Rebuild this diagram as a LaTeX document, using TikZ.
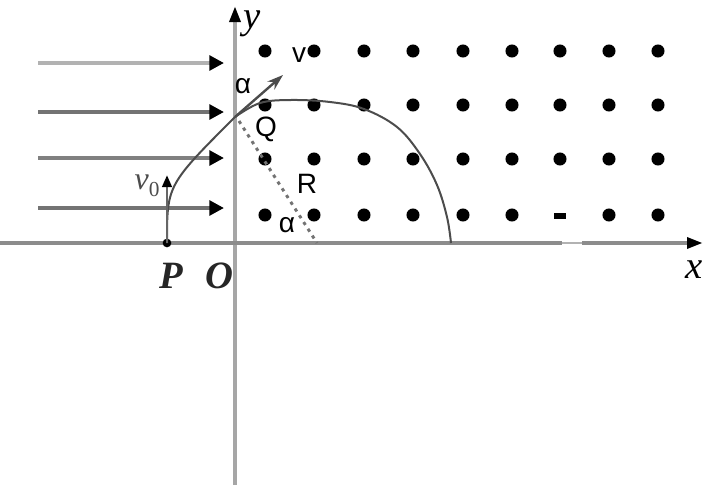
\documentclass[tikz,border=0pt]{standalone}
\usepackage{fontspec}
\setmainfont{Liberation Serif}
\newfontfamily\sanslab{Liberation Sans}
\usetikzlibrary{arrows.meta}
\begin{document}
\begin{tikzpicture}[x=0.75pt,y=-0.75pt,
  fieldarrow/.style={line width=3.2pt,draw=black!50,-{Triangle[length=11pt,width=11pt,color=black]}},
  axisline/.style={line width=3pt,draw=black!35,-{Triangle[length=12pt,width=8pt,color=black]}},
  bdot/.style={circle,fill=black,inner sep=0pt,minimum size=9.8pt},
  serlab/.style={font=\fontsize{29}{29}\selectfont\itshape,inner sep=0pt},
  boldlab/.style={font=\fontsize{29}{29}\selectfont\bfseries\itshape,text=black!85,inner sep=0pt},
  sanstext/.style={font=\sanslab\fontsize{21}{21}\selectfont,inner sep=0pt},
  track/.style={line width=1.5pt,draw=black!70}]
\useasboundingbox (0,0) rectangle (714,489);
% axes
\coordinate (ybot) at (235,485);
\coordinate (ytop) at (235,6);
\coordinate (xl) at (0,243);
\coordinate (xr) at (703,243);
\draw[axisline] (ybot) -- (ytop);
\draw[axisline,draw=black!45] (xl) -- (xr);
\coordinate (gapa) at (562,243);
\coordinate (gapb) at (582,243);
\draw[line width=3pt,white] (gapa) -- (gapb);
\draw[line width=1pt,black!30] (gapa) -- (gapb);
% field arrows
\foreach \i/\yy/\c in {1/63/30,2/112/55,3/158/50,4/208/55}{
  \coordinate (fs\i) at (38,\yy);
  \coordinate (fe\i) at (224,\yy);
  \draw[fieldarrow,draw=black!\c] (fs\i) -- (fe\i);
}
% dots
\foreach \r/\yy in {1/51,2/105,3/159,4/215}{
  \foreach \k/\xx in {1/265,2/314,3/364,4/413,5/463,6/512,8/609,9/658}{
    \node[bdot] (d\r\k) at (\xx,\yy) {};
  }
}
\foreach \r/\yy in {1/51,2/105,3/159}{
  \node[bdot] (d\r7) at (560,\yy) {};
}
\node[fill=black,inner sep=0pt,minimum width=9pt,minimum height=4.5pt] (d47) at (560,216) {};
% points
\node[circle,fill=black,inner sep=0pt,minimum size=6.5pt] (P) at (167,243) {};
\coordinate (Q) at (235,117);
\coordinate (C) at (317,243);
\coordinate (Ctrl) at (167,185);
% trajectory
\draw[track] (P.center) .. controls (Ctrl) .. (Q);
\draw[track] plot[smooth,tension=0.6] coordinates {(235,117) (260,103) (291,100) (330,102) (364,109) (397,127) (420,154) (437,185) (447,217) (451,243)};
% v0 arrow
\coordinate (v0tip) at (167,175);
\draw[line width=2.2pt,black!60,-{Triangle[length=9pt,width=7pt,color=black]}] (P.center) -- (v0tip);
% velocity arrow
\coordinate (vtip) at (283,75);
\draw[line width=1.8pt,black!70,-{Stealth[length=12pt,width=8pt,open]}] (Q) -- (vtip);
% radius
\coordinate (Qr) at (239,121);
\draw[line width=2.2pt,black!55,dash pattern=on 2.5pt off 3.5pt] (Qr) -- (C);
% labels
\node[serlab] (ylab) at (252,24) {y};
\node[serlab] (xlab) at (694,270) {x};
\node[boldlab] (Plab) at (171,276) {P};
\node[boldlab] (Olab) at (219,276) {O};
\node[sanstext] (vlab) at (299,55) {v};
\node[sanstext] (a1) at (243,86) {α};
\node[sanstext] (Qlab) at (266,129) {Q};
\node[sanstext] (Rlab) at (307,184) {R};
\node[sanstext] (a2) at (287,225) {α};
\node[font=\fontsize{24}{24}\selectfont\itshape,text=black!70,inner sep=0pt] (v0lab) at (147,186) {v\raisebox{-5pt}{\fontsize{16}{16}\selectfont\upshape 0}};
\end{tikzpicture}
\end{document}
